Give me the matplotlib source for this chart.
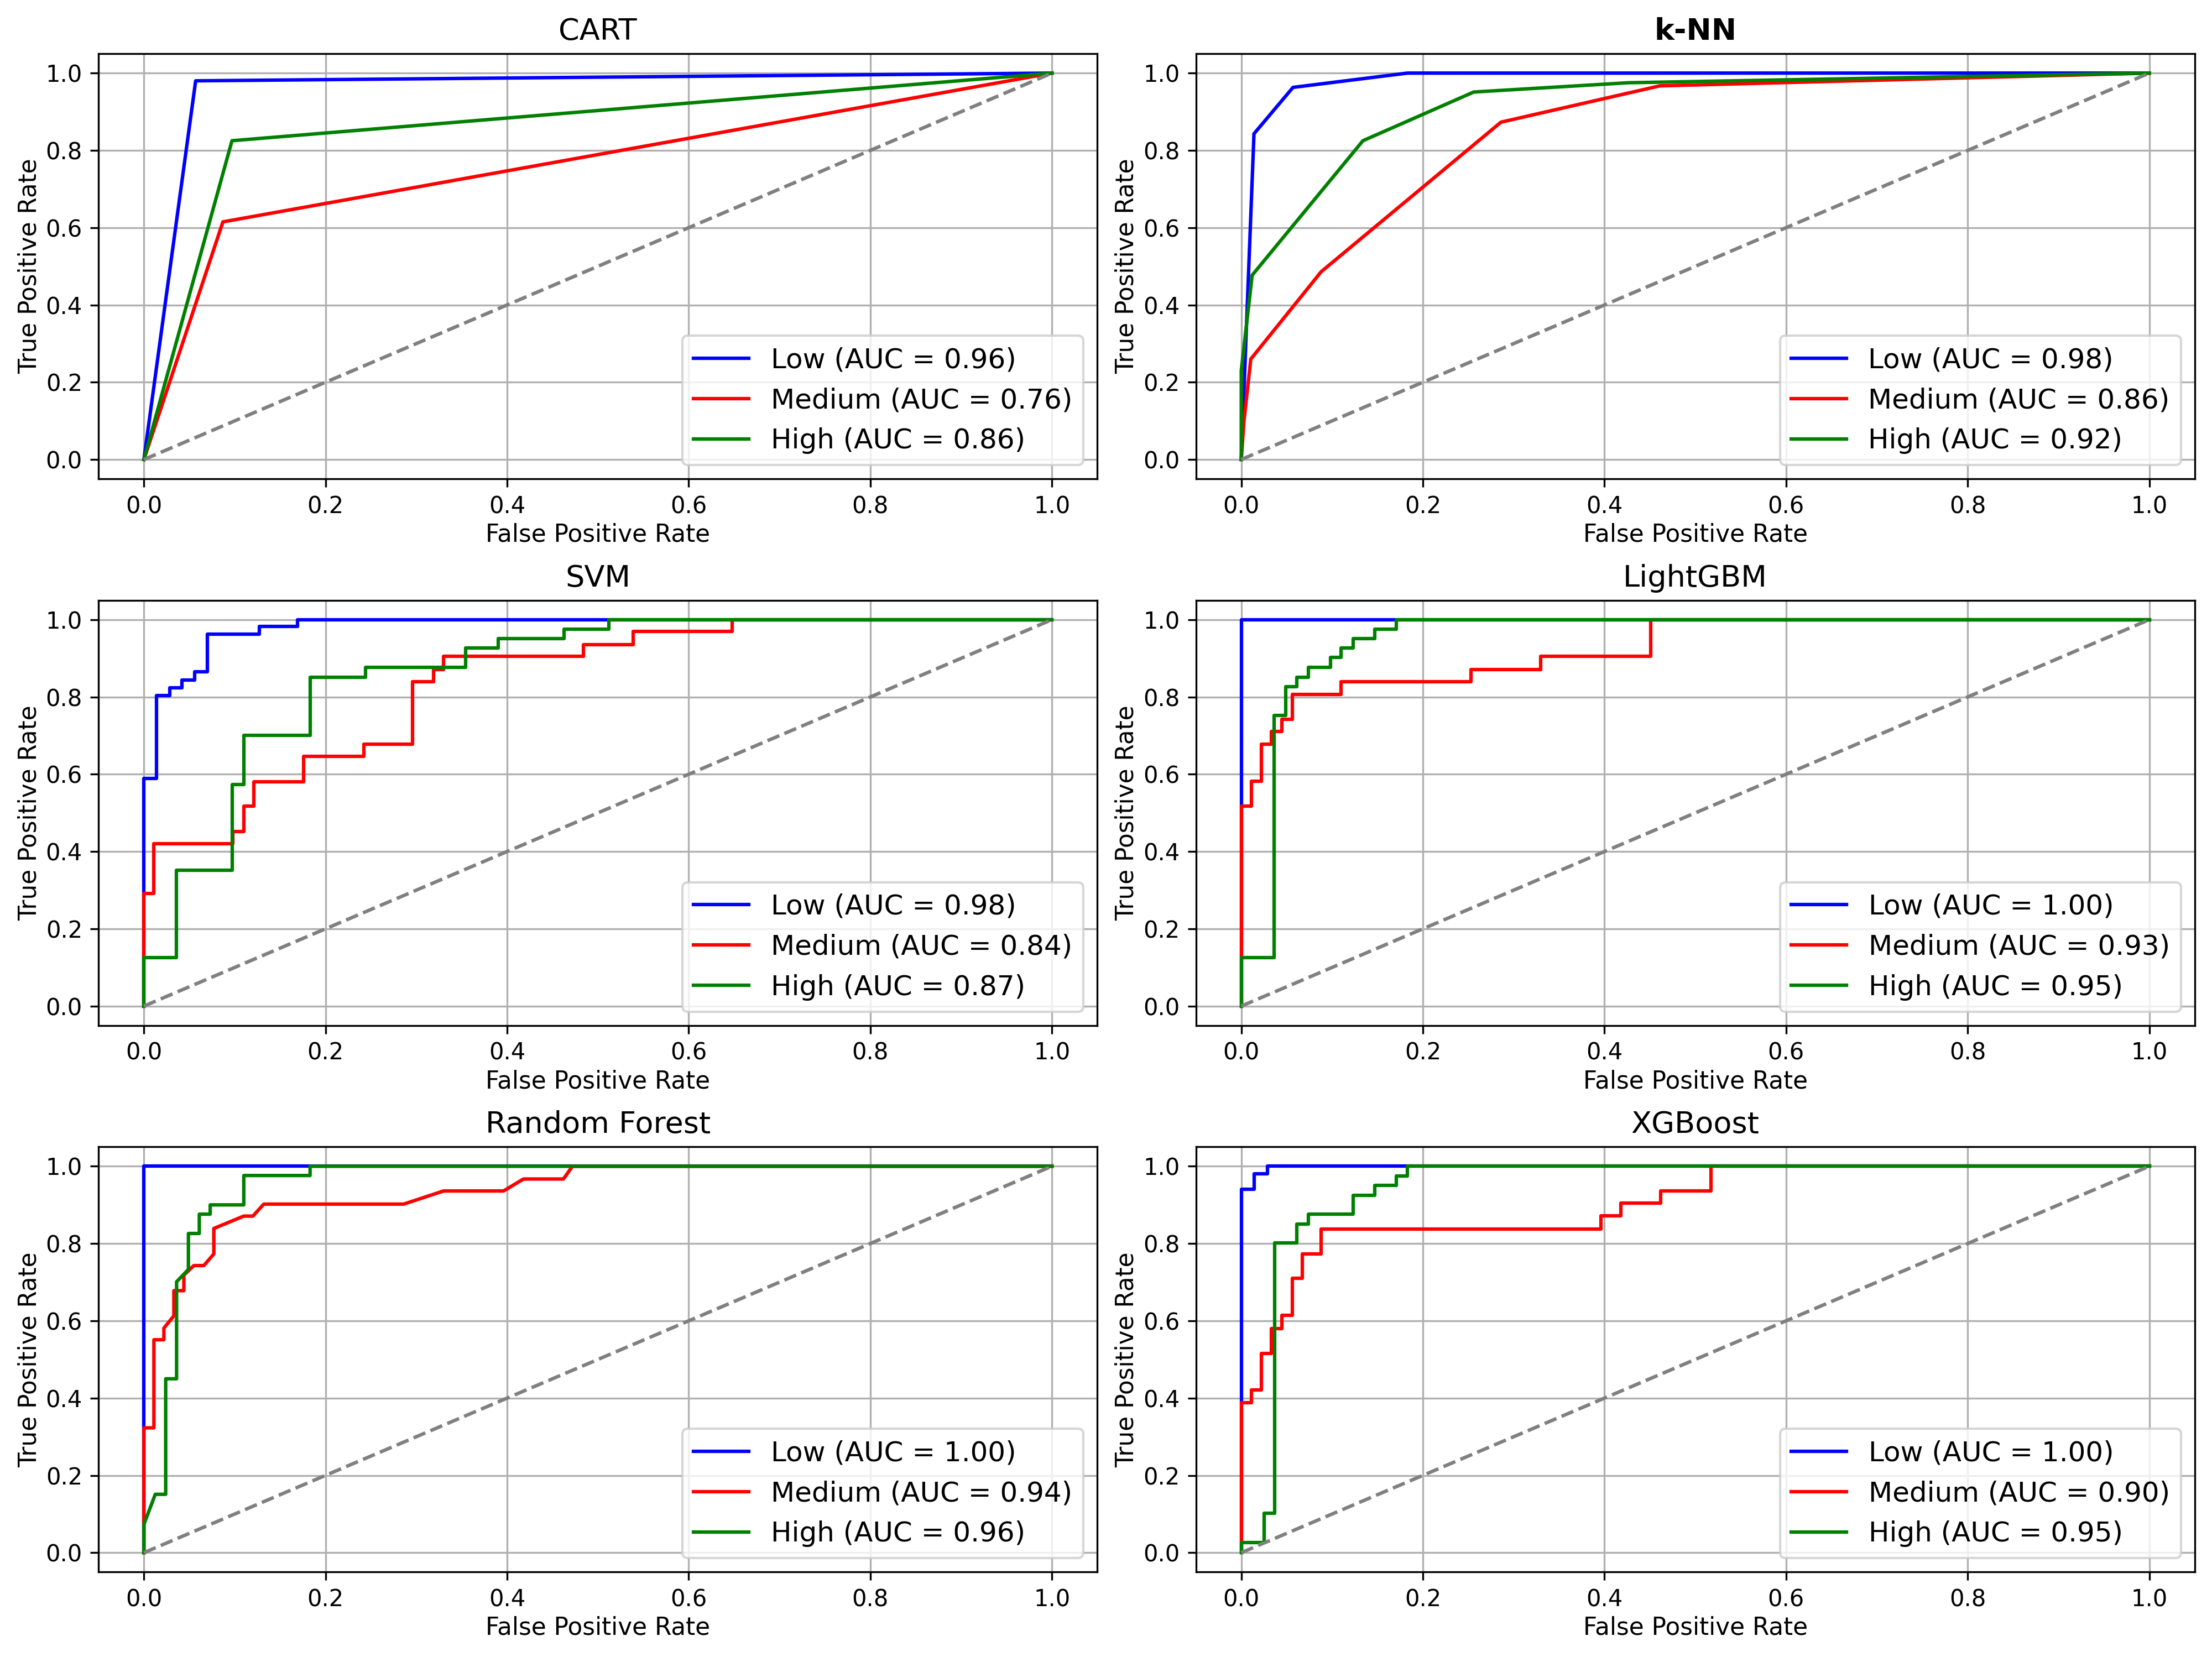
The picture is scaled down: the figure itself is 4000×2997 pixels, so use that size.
import matplotlib
matplotlib.use("Agg")
import matplotlib.pyplot as plt

class_names = ["Low", "Medium", "High"]
class_colors = ["blue", "red", "green"]

# CART (piecewise linear)
cart_fpr = [[0, 0.057, 1], [0, 0.087, 1], [0, 0.097, 1]]
cart_tpr = [[0, 0.98, 1], [0, 0.615, 1], [0, 0.825, 1]]
cart_auc = [0.96, 0.76, 0.86]

# k-NN (piecewise linear)
knn_fpr = [[0, 0.014, 0.057, 0.183, 1],
           [0, 0.003, 0.0105, 0.088, 0.286, 0.461, 1],
           [0, 0, 0.012, 0.134, 0.256, 0.426, 1]]
knn_tpr = [[0, 0.843, 0.963, 1.0, 1],
           [0, 0.10, 0.26, 0.486, 0.873, 0.967, 1],
           [0, 0.23, 0.477, 0.825, 0.951, 0.975, 1]]
knn_auc = [0.98, 0.86, 0.92]

# SVM (step corners)
svm_fpr = [[0, 0, 0.014, 0.0285, 0.042, 0.056, 0.070, 0.127, 0.169, 1],
           [0, 0, 0.011, 0.098, 0.110, 0.121, 0.176, 0.242, 0.296, 0.319, 0.330, 0.484, 0.539, 0.648, 1],
           [0, 0, 0.036, 0.097, 0.110, 0.183, 0.244, 0.354, 0.390, 0.463, 0.512, 1]]
svm_tpr = [[0, 0.589, 0.804, 0.824, 0.844, 0.865, 0.963, 0.982, 1.0, 1],
           [0, 0.291, 0.420, 0.452, 0.517, 0.581, 0.647, 0.678, 0.840, 0.871, 0.905, 0.936, 0.970, 1.0, 1],
           [0, 0.125, 0.352, 0.574, 0.701, 0.851, 0.876, 0.927, 0.951, 0.976, 1.0, 1]]
svm_auc = [0.98, 0.84, 0.87]

# LightGBM (step corners)
lgbm_fpr = [[0, 0, 1],
            [0, 0, 0.011, 0.022, 0.033, 0.045, 0.056, 0.110, 0.253, 0.330, 0.451, 1],
            [0, 0, 0.036, 0.049, 0.061, 0.074, 0.098, 0.110, 0.123, 0.147, 0.171, 1]]
lgbm_tpr = [[0, 1.0, 1],
            [0, 0.517, 0.582, 0.678, 0.711, 0.742, 0.806, 0.840, 0.871, 0.905, 1.0, 1],
            [0, 0.125, 0.752, 0.827, 0.851, 0.876, 0.902, 0.927, 0.951, 0.976, 1.0, 1]]
lgbm_auc = [1.00, 0.93, 0.95]

# Random Forest (piecewise linear)
rf_fpr = [[0, 0, 1],
          [0, 0, 0.011, 0.011, 0.022, 0.022, 0.033, 0.033, 0.044, 0.044, 0.055, 0.066,
           0.077, 0.077, 0.110, 0.120, 0.132, 0.286, 0.330, 0.396, 0.418, 0.462, 0.472, 1],
          [0, 0, 0.0125, 0.024, 0.024, 0.036, 0.036, 0.049, 0.049, 0.061, 0.061, 0.073,
           0.073, 0.110, 0.110, 0.183, 0.183, 1]]
rf_tpr = [[0, 1.0, 1],
          [0, 0.323, 0.323, 0.551, 0.551, 0.581, 0.613, 0.678, 0.678, 0.718, 0.743, 0.743,
           0.773, 0.839, 0.871, 0.871, 0.902, 0.902, 0.936, 0.936, 0.967, 0.967, 1.0, 1],
          [0, 0.073, 0.151, 0.151, 0.450, 0.450, 0.701, 0.733, 0.826, 0.826, 0.876, 0.876,
           0.900, 0.900, 0.976, 0.976, 1.0, 1]]
rf_auc = [1.00, 0.94, 0.96]

# XGBoost (step corners)
xgb_fpr = [[0, 0, 0.014, 0.029, 1],
           [0, 0, 0.011, 0.022, 0.033, 0.045, 0.056, 0.067, 0.088, 0.396, 0.418, 0.462, 0.517, 1],
           [0, 0, 0.025, 0.037, 0.061, 0.074, 0.123, 0.147, 0.171, 0.183, 1]]
xgb_tpr = [[0, 0.940, 0.980, 1.0, 1],
           [0, 0.388, 0.421, 0.516, 0.580, 0.614, 0.710, 0.773, 0.838, 0.872, 0.904, 0.936, 1.0, 1],
           [0, 0.026, 0.102, 0.801, 0.851, 0.876, 0.925, 0.950, 0.975, 1.0, 1]]
xgb_auc = [1.00, 0.90, 0.95]

models = [
    ("CART", cart_fpr, cart_tpr, cart_auc, "default"),
    ("k-NN", knn_fpr, knn_tpr, knn_auc, "default"),
    ("SVM", svm_fpr, svm_tpr, svm_auc, "steps-post"),
    ("LightGBM", lgbm_fpr, lgbm_tpr, lgbm_auc, "steps-post"),
    ("Random Forest", rf_fpr, rf_tpr, rf_auc, "default"),
    ("XGBoost", xgb_fpr, xgb_tpr, xgb_auc, "steps-post"),
]

fig, axes = plt.subplots(3, 2, figsize=(4000 / 300, 2997 / 300), dpi=300)

for ax, (name, fprs, tprs, aucs, style) in zip(axes.flat, models):
    for cls, col, fpr, tpr, auc in zip(class_names, class_colors, fprs, tprs, aucs):
        ax.plot(fpr, tpr, color=col, drawstyle=style, label=f"{cls} (AUC = {auc:.2f})")
    ax.plot([0, 1], [0, 1], color="gray", linestyle="--")
    ax.set_xlabel("False Positive Rate", fontsize=10.5, labelpad=2)
    ax.set_ylabel("True Positive Rate", fontsize=10.5, labelpad=2)
    if name == "k-NN":
        ax.set_title(name, fontsize=13, fontweight="bold")
    else:
        ax.set_title(name, fontsize=13)
    ax.legend(loc="lower right", fontsize=12)
    ax.grid(True)

fig.tight_layout(pad=0.75)
fig.savefig("out.png", dpi=300)
